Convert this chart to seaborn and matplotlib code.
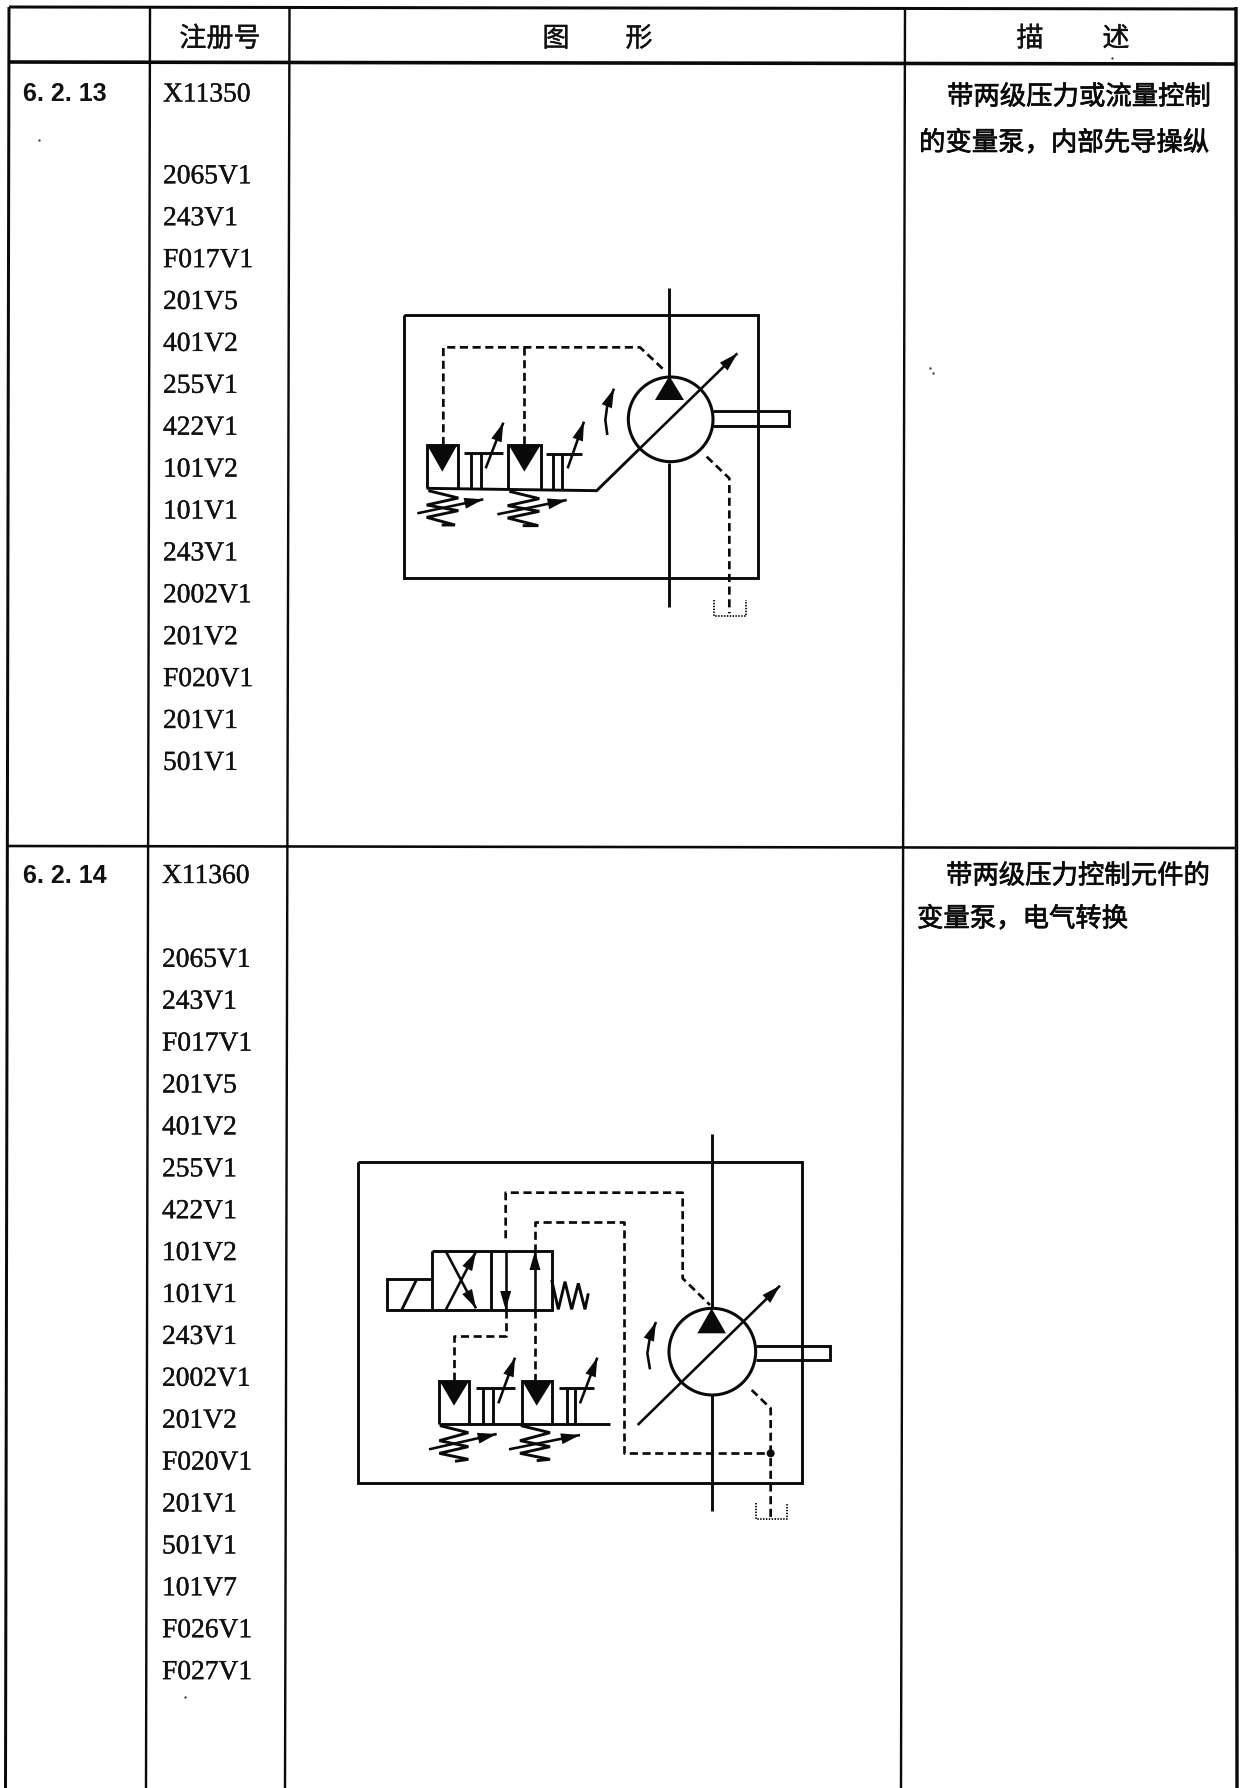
import numpy as np
import matplotlib.pyplot as plt
import matplotlib.patheffects as pe
import seaborn as sns

# table text
headers = ["注册号", "图", "形", "描", "述"]
header_x = [220, 556, 639, 1030, 1116]
row_ids = ["6. 2. 13", "6. 2. 14"]
codes_13 = ["X11350", "", "2065V1", "243V1", "F017V1", "201V5", "401V2", "255V1", "422V1",
            "101V2", "101V1", "243V1", "2002V1", "201V2", "F020V1", "201V1", "501V1"]
codes_14 = ["X11360", "", "2065V1", "243V1", "F017V1", "201V5", "401V2", "255V1", "422V1",
            "101V2", "101V1", "243V1", "2002V1", "201V2", "F020V1", "201V1", "501V1",
            "101V7", "F026V1", "F027V1"]
desc_13 = ["带两级压力或流量控制", "的变量泵，内部先导操纵"]
desc_14 = ["带两级压力控制元件的", "变量泵，电气转换"]

# table rules, full size pixels (the scan is a little skewed)
rules = [
    ([9, 1236], [7, 9], 3.0), ([9, 1236], [62, 64], 3.6), ([7, 1237], [846, 848], 2.6),
    ([9, 5.5], [7, 1788], 3.0), ([150, 146], [7, 1788], 2.4), ([289.5, 285], [7, 1788], 2.4),
    ([905, 901], [7, 1788], 2.4), ([1236, 1237], [7, 1788], 3.4),
]

# schematic 1, in crop coordinates: origin (390, 270), 3x
origin_1 = (390, 270)
frame_1 = [(42, 135), (1105, 135), (1105, 925), (42, 925), (42, 135)]
solid_1 = [
    frame_1,
    [(838, 55), (838, 320)], [(838, 578), (838, 1012)],
    [(970, 423), (1197, 423), (1197, 468), (970, 468)],
    [(110, 655), (620, 662), (750, 535)],
    [(110, 655), (110, 525), (203, 525), (203, 655)],
    [(355, 658), (355, 525), (452, 525), (452, 660)],
    [(222, 550), (338, 550)], [(243, 550), (243, 655)], [(272, 550), (272, 655)],
    [(467, 552), (577, 552)], [(490, 552), (490, 658)], [(515, 552), (515, 658)],
    [(115, 662), (205, 684), (110, 705), (205, 722), (110, 742), (195, 765), (155, 765)],
    [(358, 664), (448, 686), (353, 707), (448, 724), (353, 744), (445, 767), (398, 767)],
]
dashed_1 = [
    [(160, 525), (160, 232), (750, 232), (820, 298)],
    [(403, 232), (403, 525)],
    [(950, 560), (1018, 625), (1018, 1030)],
]
dotted_1 = [[(973, 990), (973, 1038), (1067, 1038), (1067, 990)]]
filled_1 = [
    [(838, 318), (795, 390), (882, 390)],
    [(113, 528), (200, 528), (157, 605)],
    [(358, 528), (450, 528), (403, 605)],
]
arrows_1 = [
    [(750, 535), (1042, 250)],
    [(287, 595), (340, 458)], [(533, 595), (582, 455)],
    [(82, 730), (280, 688)], [(322, 733), (530, 690)],
    [(652, 495), (646, 450), (652, 405), (672, 356)],
]
circle_1 = (842, 448, 127)

# schematic 2, crop origin (340, 1120), 3x
origin_2 = (340, 1120)
frame_2 = [(53, 125), (1385, 125), (1385, 1090), (53, 1090), (53, 125)]
solid_2 = [
    frame_2,
    [(1117, 42), (1117, 565)], [(1117, 825), (1117, 1172)],
    [(1248, 677), (1470, 677), (1470, 720), (1248, 720)],
    [(275, 393), (635, 393), (635, 570), (140, 570), (140, 478), (275, 478)],
    [(275, 393), (275, 570)], [(452, 393), (452, 570)],
    [(185, 570), (230, 478)],
    [(635, 480), (655, 568), (675, 485), (695, 568), (715, 490), (735, 568), (745, 520)],
    [(298, 912), (298, 783), (388, 783), (388, 912)],
    [(545, 912), (545, 783), (637, 783), (637, 912)],
    [(298, 912), (810, 912)],
    [(408, 805), (525, 805)], [(428, 805), (428, 912)], [(458, 805), (458, 912)],
    [(658, 803), (762, 803)], [(680, 803), (680, 912)], [(705, 803), (705, 912)],
    [(300, 917), (385, 938), (298, 962), (385, 980), (298, 1000), (385, 1018), (345, 1024)],
    [(543, 917), (630, 938), (540, 962), (630, 980), (540, 1000), (630, 1018), (590, 1022)],
]
dashed_2 = [
    [(497, 355), (497, 218), (1028, 218), (1028, 475), (1110, 555)],
    [(585, 395), (585, 305), (852, 305), (852, 1000), (1292, 1000)],
    [(1235, 810), (1292, 865), (1292, 1200)],
    [(497, 570), (497, 648), (342, 648), (342, 782)],
    [(585, 570), (585, 782)],
]
dotted_2 = [[(1248, 1150), (1248, 1197), (1342, 1197), (1342, 1150)]]
filled_2 = [
    [(1115, 565), (1072, 640), (1158, 640)],
    [(300, 785), (386, 785), (342, 857)],
    [(548, 785), (635, 785), (590, 857)],
]
arrows_2 = [
    [(893, 915), (1320, 497)],
    [(317, 570), (408, 395)], [(317, 393), (408, 565)],
    [(497, 393), (497, 570)], [(585, 570), (585, 393)],
    [(475, 850), (525, 713)], [(720, 850), (772, 713)],
    [(267, 988), (470, 942)], [(507, 988), (720, 945)],
    [(930, 748), (922, 700), (930, 650), (948, 606)],
]
circle_2 = (1117, 695, 130)
junction_2 = (1292, 1000)

# bits of dirt on the scan
specks = [(39, 140), (930, 368), (933, 373), (185, 1697), (1112, 58)]

sns.set_theme(style="white")
plt.rcParams['font.family'] = ['Noto Sans CJK SC', 'DejaVu Sans']

fig = plt.figure(figsize=(12.41, 17.88), dpi=100)
ax = fig.add_axes([0, 0, 1, 1])
ax.set_xlim(0, 1241)
ax.set_ylim(1788, 0)
ax.axis('off')

heavy = [pe.withStroke(linewidth=0.5, foreground='#0a0a0a')]
light = [pe.withStroke(linewidth=0.25, foreground='#111111')]


def draw_line(xs, ys, width_px, style='-'):
    line_ax = sns.lineplot(x=xs, y=ys, sort=False, estimator=None, errorbar=None, ax=ax,
                           color='#0a0a0a', linewidth=width_px * 0.72, legend=False)
    line = line_ax.lines[-1]
    line.set_linestyle(style)
    line.set_solid_joinstyle('miter')
    line.set_solid_capstyle('butt')


def to_px(path, origin):
    pts = np.array(path, dtype=float)
    return origin[0] + pts[:, 0] / 3, origin[1] + pts[:, 1] / 3


def draw_schematic(origin, solid, dashed, dotted, filled, arrows, circle):
    for path in solid:
        xs, ys = to_px(path, origin)
        draw_line(xs, ys, 2.9)
    for path in dashed:
        xs, ys = to_px(path, origin)
        draw_line(xs, ys, 2.7, (0, (3.0, 1.7)))
    for path in dotted:
        xs, ys = to_px(path, origin)
        draw_line(xs, ys, 1.8, (0, (0.8, 0.8)))
    for path in filled:
        xs, ys = to_px(path, origin)
        ax.fill(xs, ys, color='#0a0a0a', lw=0)
    for path in arrows:
        xs, ys = to_px(path, origin)
        draw_line(xs, ys, 2.6)
        # head on the last segment
        d = np.array([xs[-1] - xs[-2], ys[-1] - ys[-2]])
        d = d / np.hypot(*d)
        n = np.array([-d[1], d[0]])
        tip = np.array([xs[-1], ys[-1]])
        base = tip - d * 19
        head = np.array([tip, base + n * 5.5, base - n * 5.5])
        ax.fill(head[:, 0], head[:, 1], color='#0a0a0a', lw=0)
    cx, cy, r = circle
    ax.add_patch(plt.Circle((origin[0] + cx / 3, origin[1] + cy / 3), r / 3, fill=False,
                            ec='#0a0a0a', lw=2.2))


for xs, ys, w in rules:
    draw_line(xs, ys, w)

for label, x in zip(headers, header_x):
    ax.text(x, 39, label, ha='center', va='center', fontsize=19.5, color='#111111',
            path_effects=light)

for label, y in zip(row_ids, [94, 876]):
    ax.text(23, y, label, ha='left', va='center', fontsize=18, color='#111111',
            family='Liberation Sans', weight='bold')

# the first code of row 6.2.13 sits a little low against the rest of its list
for codes, x, y0, lift in [(codes_13, 163, 95, 2), (codes_14, 162, 876.5, 0)]:
    for i, code in enumerate(codes):
        if code:
            ax.text(x, y0 + i * 41.9 - lift * (i > 0), code, ha='left', va='center', fontsize=19.8,
                    color='#111111', family='Liberation Serif', path_effects=light)

for lines, xs, ys in [(desc_13, [947, 919], [97, 143]), (desc_14, [946, 917], [876, 919])]:
    for line, x, y in zip(lines, xs, ys):
        ax.text(x, y, line, ha='left', va='center', fontsize=19.0, color='#0a0a0a',
                path_effects=heavy)

draw_schematic(origin_1, solid_1, dashed_1, dotted_1, filled_1, arrows_1, circle_1)
draw_schematic(origin_2, solid_2, dashed_2, dotted_2, filled_2, arrows_2, circle_2)
jx, jy = to_px([junction_2], origin_2)
ax.add_patch(plt.Circle((jx[0], jy[0]), 4, color='#0a0a0a', lw=0))

spx = [p[0] for p in specks]
spy = [p[1] for p in specks]
ax.scatter(spx, spy, s=3, color='#444444', linewidths=0)

fig.savefig("out.png", dpi=100, facecolor='white')
plt.close(fig)
